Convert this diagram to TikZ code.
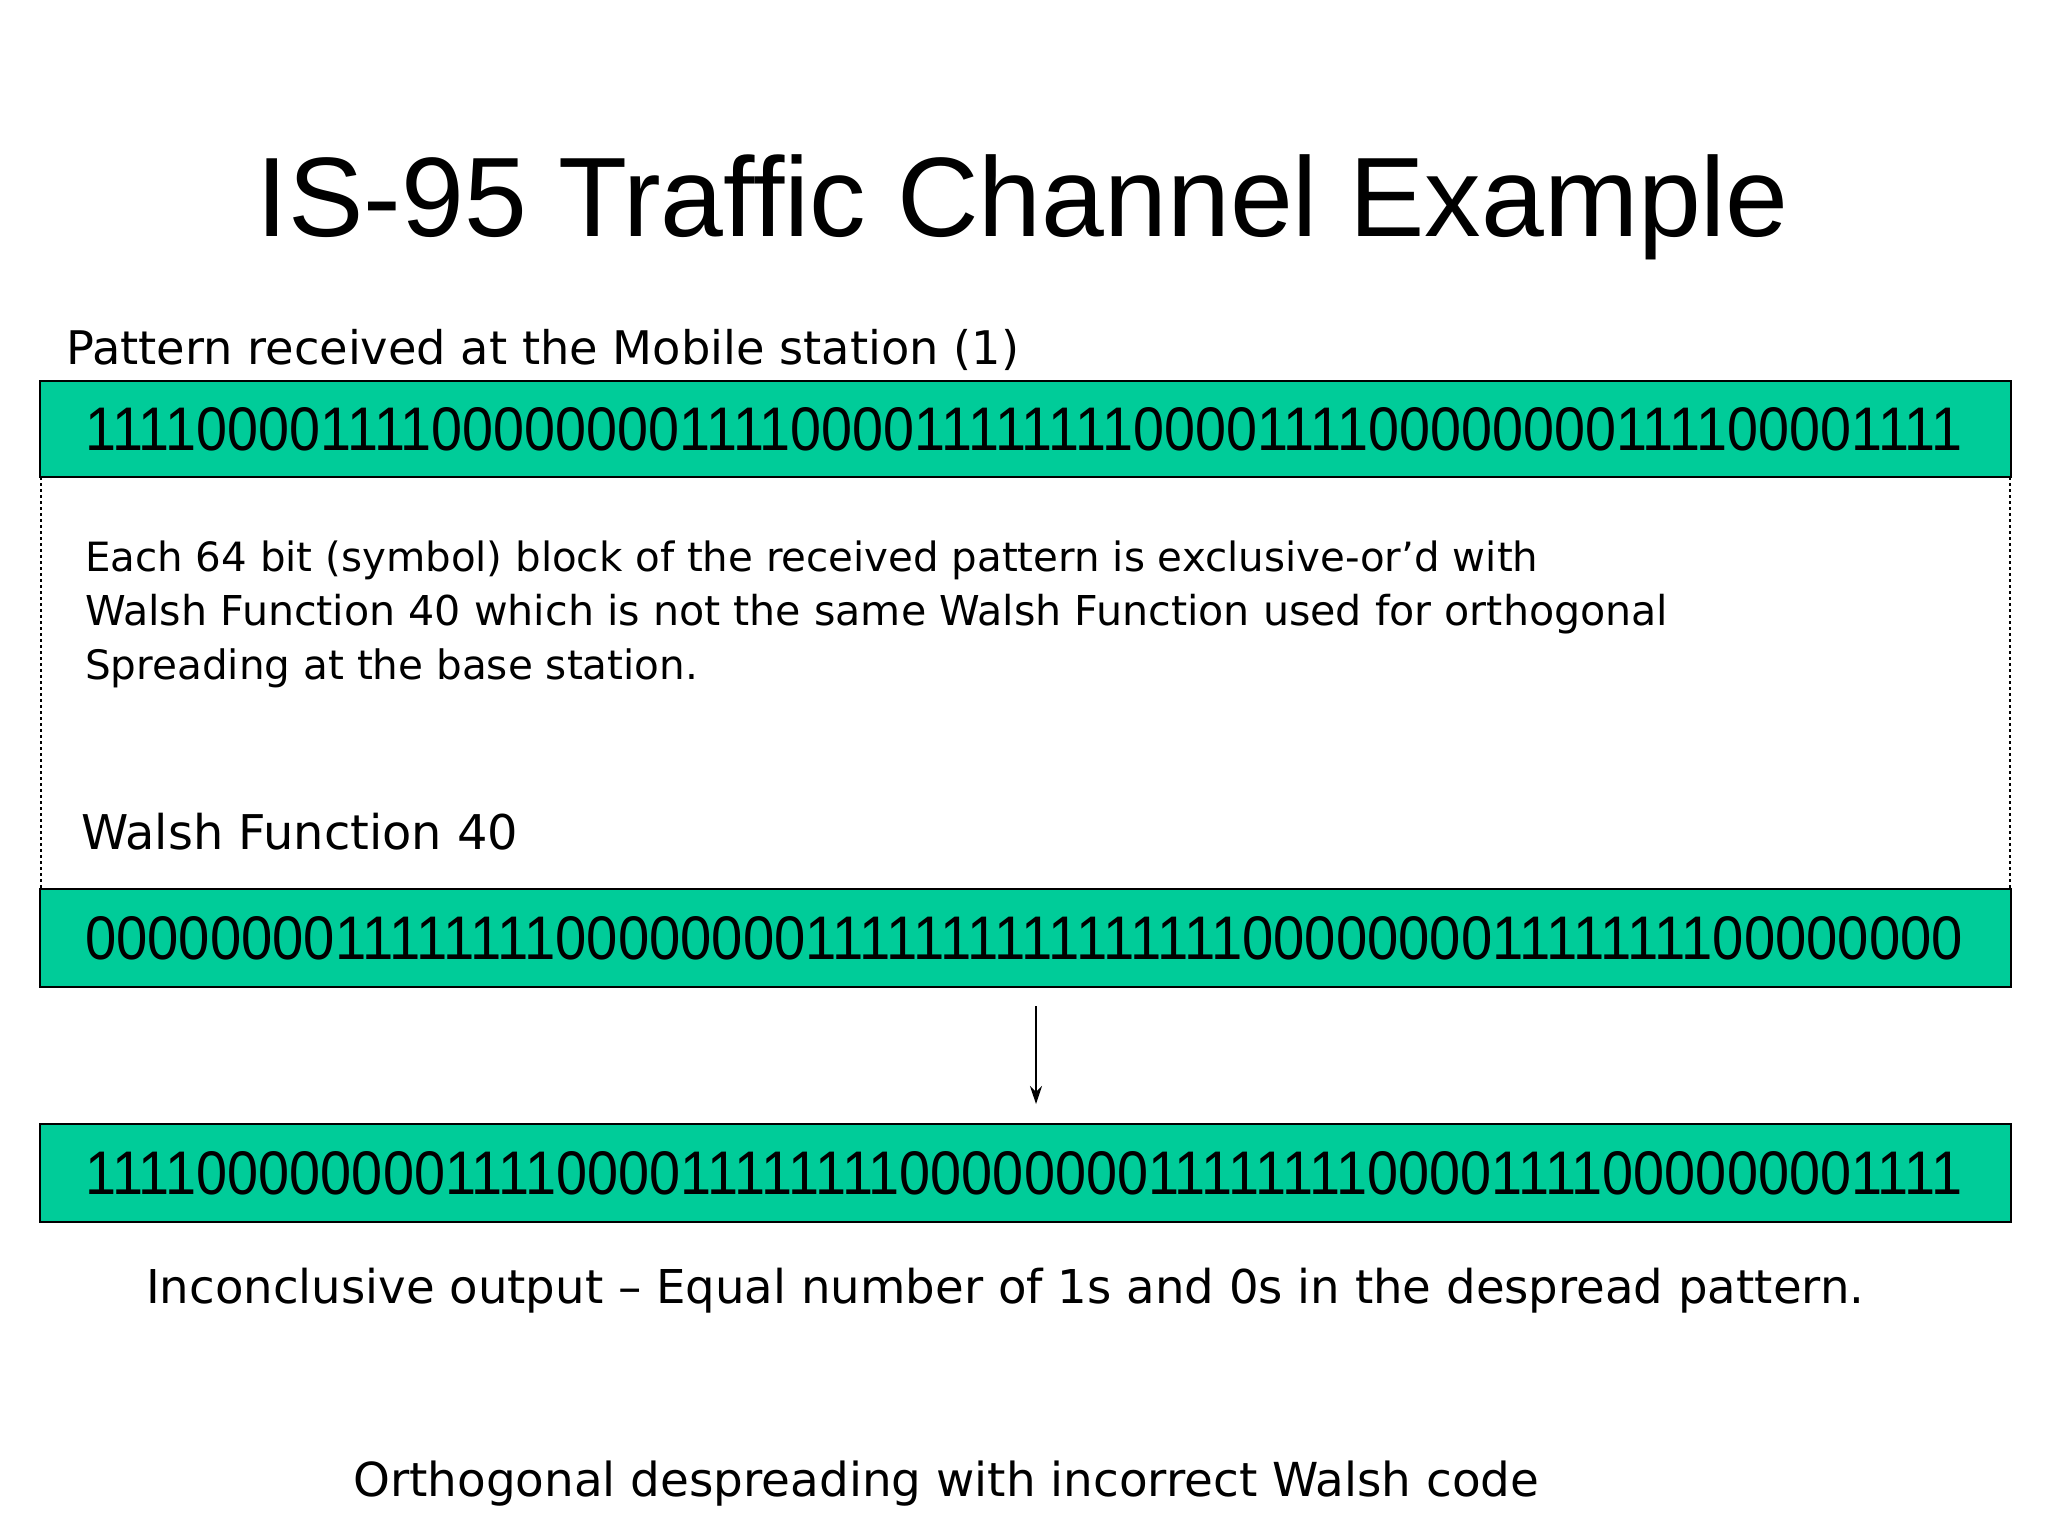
\documentclass[tikz,border=0pt]{standalone}
\usepackage{fontspec}
\setmainfont{Liberation Sans}
\newfontfamily\bodyf{DejaVu Sans}
\usepackage{graphicx}
\usetikzlibrary{arrows.meta}
\definecolor{barg}{HTML}{00CC99}
\begin{document}
\begin{tikzpicture}[x=1pt,y=-1pt,
  bar/.style={draw=black,line width=2pt,fill=barg},
  bits/.style={anchor=base west,inner sep=0pt},
  txt/.style={anchor=base west,inner sep=0pt}]
\useasboundingbox[fill=white] (0,0) rectangle (2048,1536);
% title
\node[inner sep=0pt,anchor=base] (title) at (1023,236) {\resizebox{1532pt}{!}{\fontsize{100}{120}\selectfont IS-95 Traffic Channel Example}};
\node[txt] (lab1) at (66,364) {\resizebox{953pt}{!}{\bodyf\fontsize{40}{48}\selectfont Pattern received at the Mobile station (1)}};
% bars
\draw[bar] (40,381) rectangle (2011,477);
\node[bits] (b1) at (85,450) {\resizebox{1878pt}{43pt}{\fontsize{60}{60}\selectfont 1111000011110000000011110000111111110000111100000000111100001111}};
\draw[bar] (40,889) rectangle (2011,987);
\node[bits] (b2) at (85,959) {\resizebox{1878pt}{43pt}{\fontsize{60}{60}\selectfont 0000000011111111000000001111111111111111000000001111111100000000}};
\draw[bar] (40,1124) rectangle (2011,1222);
\node[bits] (b3) at (85,1194) {\resizebox{1878pt}{43pt}{\fontsize{60}{60}\selectfont 1111000000001111000011111111000000001111111100001111000000001111}};
% dashed sides
\draw[dashed,line width=1.5pt] (41,477) -- (41,889);
\draw[dashed,line width=1.5pt] (2010,477) -- (2010,889);
% paragraph
\node[txt] (p1) at (85,571) {\resizebox{1453pt}{!}{\bodyf\fontsize{40}{48}\selectfont Each 64 bit (symbol) block of the received pattern is exclusive-or’d with}};
\node[txt] (p2) at (85,625) {\resizebox{1583pt}{!}{\bodyf\fontsize{40}{48}\selectfont Walsh Function 40 which is not the same Walsh Function used for orthogonal}};
\node[txt] (p3) at (85,679) {\resizebox{613pt}{!}{\bodyf\fontsize{40}{48}\selectfont Spreading at the base station.}};
\node[txt] (wf) at (81,849) {\resizebox{437pt}{!}{\bodyf\fontsize{40}{48}\selectfont Walsh Function 40}};
% arrow
\coordinate (a1) at (1036,1006);
\coordinate (a2) at (1036,1104);
\draw[-{Stealth[length=18pt,width=12pt]},line width=1.5pt] (a1) -- (a2);
\node[txt] (inc) at (146,1303) {\resizebox{1718pt}{!}{\bodyf\fontsize{40}{48}\selectfont Inconclusive output – Equal number of 1s and 0s in the despread pattern.}};
\node[txt] (orth) at (353,1496) {\resizebox{1186pt}{!}{\bodyf\fontsize{40}{48}\selectfont Orthogonal despreading with incorrect Walsh code}};
\end{tikzpicture}
\end{document}
